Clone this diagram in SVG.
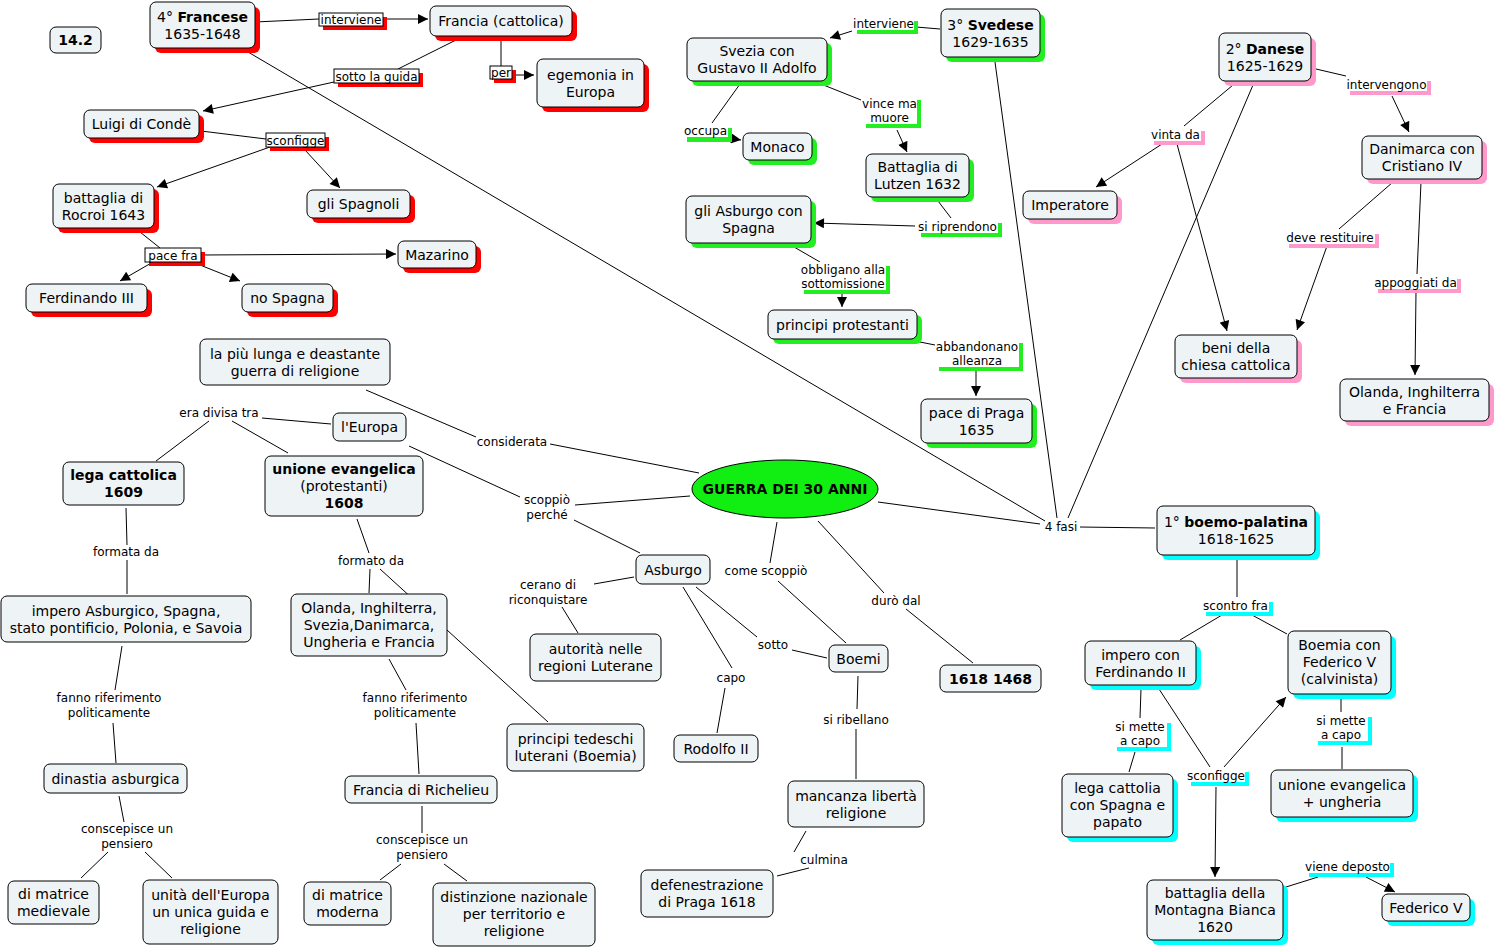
<svg xmlns="http://www.w3.org/2000/svg" width="1496" height="949" viewBox="0 0 1496 949">
<style>
.bg{fill:#ffffff}
.n{fill:#eef3f6;stroke:#000;stroke-width:1}
.sr{fill:#ff0000}
.sg{fill:#22ee22}
.sp{fill:#ff99cc}
.sc{fill:#00ffff}
.lb{fill:#ffffff}
.lbr{fill:#ffffff;stroke:#000;stroke-width:1}
text{font-family:"DejaVu Sans","Verdana",sans-serif;fill:#000}
.t{font-size:14px;text-anchor:middle}
.b{font-weight:bold}
.l{font-size:12px;text-anchor:middle}
.c line{stroke:#000;stroke-width:1;fill:none}
.c line.a{marker-end:url(#ar)}
</style>
<defs>
<marker id="ar" viewBox="0 0 10 10" refX="10" refY="5" markerWidth="11" markerHeight="10" markerUnits="userSpaceOnUse" orient="auto">
<path d="M0,0 L10,5 L0,10 z" fill="#000"/>
</marker>
</defs>
<rect class="bg" x="0" y="0" width="1496" height="949"/>

<g class="c" id="connectors">
<!-- red -->
<line x1="255" y1="22" x2="319" y2="19"/>
<line class="a" x1="383" y1="19" x2="428" y2="19"/>
<line x1="462" y1="37" x2="398" y2="69"/>
<line class="a" x1="334" y1="82" x2="203" y2="111"/>
<line x1="501" y1="37" x2="501" y2="66"/>
<line class="a" x1="512" y1="75" x2="534" y2="75"/>
<line x1="201" y1="131" x2="266" y2="139"/>
<line class="a" x1="270" y1="147" x2="157" y2="187"/>
<line class="a" x1="305" y1="150" x2="340" y2="188"/>
<line x1="140" y1="232" x2="160" y2="248"/>
<line class="a" x1="201" y1="255" x2="396" y2="254"/>
<line class="a" x1="153" y1="262" x2="120" y2="281"/>
<line class="a" x1="200" y1="265" x2="240" y2="281"/>
<line x1="248" y1="52" x2="1045" y2="521"/>
<!-- green -->
<line x1="940" y1="29" x2="916" y2="27"/>
<line class="a" x1="852" y1="31" x2="830" y2="38"/>
<line x1="740" y1="84" x2="712" y2="123"/>
<line class="a" x1="728" y1="138" x2="741" y2="140"/>
<line x1="821" y1="84" x2="861" y2="100"/>
<line class="a" x1="897" y1="130" x2="907" y2="152"/>
<line x1="938" y1="201" x2="951" y2="218"/>
<line class="a" x1="915" y1="226" x2="814" y2="223"/>
<line x1="794" y1="247" x2="820" y2="262"/>
<line class="a" x1="842" y1="291" x2="842" y2="307"/>
<line x1="920" y1="342" x2="935" y2="345"/>
<line class="a" x1="976" y1="369" x2="976" y2="396"/>
<line x1="995" y1="62" x2="1057" y2="518"/>
<!-- pink -->
<line x1="1316" y1="69" x2="1346" y2="76"/>
<line class="a" x1="1392" y1="96" x2="1409" y2="132"/>
<line x1="1233" y1="85" x2="1184" y2="126"/>
<line class="a" x1="1162" y1="144" x2="1096" y2="187"/>
<line class="a" x1="1177" y1="144" x2="1227" y2="331"/>
<line x1="1253" y1="85" x2="1068" y2="518"/>
<line x1="1393" y1="182" x2="1339" y2="229"/>
<line class="a" x1="1327" y1="246" x2="1297" y2="330"/>
<line x1="1421" y1="182" x2="1417" y2="274"/>
<line class="a" x1="1416" y1="291" x2="1415" y2="375"/>
<!-- cyan -->
<line x1="1080" y1="527" x2="1155" y2="528"/>
<line x1="1237" y1="558" x2="1237" y2="597"/>
<line x1="1222" y1="615" x2="1180" y2="640"/>
<line x1="1252" y1="615" x2="1287" y2="634"/>
<line x1="1141" y1="689" x2="1140" y2="718"/>
<line x1="1135" y1="752" x2="1129" y2="772"/>
<line x1="1159" y1="689" x2="1210" y2="767"/>
<line class="a" x1="1224" y1="767" x2="1286" y2="697"/>
<line class="a" x1="1216" y1="787" x2="1215" y2="877"/>
<line x1="1341" y1="698" x2="1341" y2="712"/>
<line x1="1342" y1="747" x2="1342" y2="769"/>
<line x1="1286" y1="887" x2="1318" y2="877"/>
<line class="a" x1="1366" y1="877" x2="1395" y2="892"/>
<!-- center -->
<line x1="366" y1="390" x2="476" y2="437"/>
<line x1="550" y1="444" x2="699" y2="473"/>
<line x1="331" y1="424" x2="262" y2="418"/>
<line x1="209" y1="421" x2="156" y2="461"/>
<line x1="232" y1="421" x2="288" y2="453"/>
<line x1="409" y1="446" x2="520" y2="497"/>
<line x1="575" y1="505" x2="690" y2="496"/>
<line x1="574" y1="520" x2="640" y2="553"/>
<line x1="126" y1="508" x2="127" y2="545"/>
<line x1="127" y1="560" x2="127" y2="594"/>
<line x1="357" y1="519" x2="369" y2="553"/>
<line x1="370" y1="569" x2="369" y2="593"/>
<line x1="380" y1="569" x2="548" y2="722"/>
<line x1="122" y1="646" x2="115" y2="690"/>
<line x1="113" y1="723" x2="116" y2="763"/>
<line x1="389" y1="659" x2="406" y2="690"/>
<line x1="416" y1="723" x2="419" y2="774"/>
<line x1="119" y1="796" x2="124" y2="822"/>
<line x1="108" y1="852" x2="81" y2="878"/>
<line x1="145" y1="852" x2="172" y2="878"/>
<line x1="422" y1="806" x2="422" y2="833"/>
<line x1="401" y1="864" x2="380" y2="880"/>
<line x1="444" y1="864" x2="467" y2="881"/>
<line x1="777" y1="522" x2="770" y2="563"/>
<line x1="778" y1="581" x2="846" y2="643"/>
<line x1="818" y1="521" x2="884" y2="593"/>
<line x1="906" y1="609" x2="973" y2="663"/>
<line x1="878" y1="502" x2="1040" y2="524"/>
<line x1="634" y1="577" x2="594" y2="584"/>
<line x1="562" y1="607" x2="578" y2="633"/>
<line x1="683" y1="587" x2="732" y2="668"/>
<line x1="725" y1="688" x2="717" y2="733"/>
<line x1="696" y1="587" x2="757" y2="637"/>
<line x1="792" y1="650" x2="827" y2="658"/>
<line x1="858" y1="676" x2="857" y2="709"/>
<line x1="856" y1="729" x2="856" y2="779"/>
<line x1="806" y1="831" x2="794" y2="852"/>
<line x1="809" y1="868" x2="777" y2="876"/>
</g>

<!-- link labels red -->
<g id="lbl-interviene-r"><rect class="sr" x="323" y="17" width="64" height="13"/><rect class="lbr" x="319" y="13" width="64" height="13"/><text class="l" x="351" y="24">interviene</text></g>
<g id="lbl-sotto-guida"><rect class="sr" x="338" y="73" width="85" height="14"/><rect class="lbr" x="334" y="69" width="85" height="14"/><text class="l" x="376.5" y="80.5">sotto la guida</text></g>
<g id="lbl-per"><rect class="sr" x="494" y="70" width="22" height="13"/><rect class="lbr" x="490" y="66" width="22" height="13"/><text class="l" x="501" y="77">per</text></g>
<g id="lbl-sconfigge-r"><rect class="sr" x="270" y="137" width="59" height="14"/><rect class="lbr" x="266" y="133" width="59" height="14"/><text class="l" x="295.5" y="144.5">sconfigge</text></g>
<g id="lbl-pace-fra"><rect class="sr" x="149" y="252" width="56" height="14"/><rect class="lbr" x="145" y="248" width="56" height="14"/><text class="l" x="173" y="259.5">pace fra</text></g>

<!-- link labels green -->
<g id="lbl-interviene-g"><rect class="sg" x="857" y="21" width="61" height="13"/><rect class="lb" x="853" y="17" width="61" height="13"/><text class="l" x="883.5" y="28">interviene</text></g>
<g id="lbl-occupa"><rect class="sg" x="687" y="128" width="45" height="14"/><rect class="lb" x="683" y="124" width="45" height="13"/><text class="l" x="705.5" y="134.5">occupa</text></g>
<g id="lbl-vince"><rect class="sg" x="866" y="100" width="55" height="28"/><rect class="lb" x="862" y="96" width="55" height="28"/><text class="l" x="889.5" y="107.5">vince ma</text><text class="l" x="889.5" y="122">muore</text></g>
<g id="lbl-riprendono"><rect class="sg" x="921" y="223" width="81" height="14"/><rect class="lb" x="917" y="219" width="81" height="14"/><text class="l" x="957.5" y="230.5">si riprendono</text></g>
<g id="lbl-obbligano"><rect class="sg" x="804" y="266" width="86" height="28"/><rect class="lb" x="800" y="262" width="86" height="28"/><text class="l" x="843" y="273.5">obbligano alla</text><text class="l" x="843" y="288">sottomissione</text></g>
<g id="lbl-abbandonano"><rect class="sg" x="939" y="343" width="84" height="28"/><rect class="lb" x="935" y="339" width="84" height="28"/><text class="l" x="977" y="350.5">abbandonano</text><text class="l" x="977" y="365">alleanza</text></g>

<!-- link labels pink -->
<g id="lbl-intervengono"><rect class="sp" x="1350" y="81" width="81" height="14"/><rect class="lb" x="1346" y="77" width="81" height="14"/><text class="l" x="1386.5" y="88.5">intervengono</text></g>
<g id="lbl-vinta"><rect class="sp" x="1154" y="131" width="51" height="14"/><rect class="lb" x="1150" y="127" width="51" height="14"/><text class="l" x="1175.5" y="138.5">vinta da</text></g>
<g id="lbl-restituire"><rect class="sp" x="1289" y="234" width="90" height="14"/><rect class="lb" x="1285" y="230" width="90" height="14"/><text class="l" x="1330" y="241.5">deve restituire</text></g>
<g id="lbl-appoggiati"><rect class="sp" x="1378" y="279" width="83" height="14"/><rect class="lb" x="1374" y="275" width="83" height="14"/><text class="l" x="1415.5" y="286.5">appoggiati da</text></g>

<!-- link labels cyan -->
<g id="lbl-scontro"><rect class="sc" x="1206" y="602" width="67" height="14"/><rect class="lb" x="1202" y="598" width="67" height="14"/><text class="l" x="1235.5" y="609.5">scontro fra</text></g>
<g id="lbl-mette-l"><rect class="sc" x="1117" y="723" width="54" height="28"/><rect class="lb" x="1113" y="719" width="54" height="28"/><text class="l" x="1140" y="730.5">si mette</text><text class="l" x="1140" y="745">a capo</text></g>
<g id="lbl-sconfigge-c"><rect class="sc" x="1191" y="772" width="58" height="14"/><rect class="lb" x="1187" y="768" width="58" height="14"/><text class="l" x="1216" y="779.5">sconfigge</text></g>
<g id="lbl-mette-r"><rect class="sc" x="1318" y="717" width="54" height="28"/><rect class="lb" x="1314" y="713" width="54" height="28"/><text class="l" x="1341" y="724.5">si mette</text><text class="l" x="1341" y="739">a capo</text></g>
<g id="lbl-deposto"><rect class="sc" x="1309" y="863" width="85" height="14"/><rect class="lb" x="1305" y="859" width="85" height="14"/><text class="l" x="1347.5" y="870.5">viene deposto</text></g>

<!-- link labels plain -->
<g id="lbl-plain">
<text class="l" x="512" y="446">considerata</text>
<text class="l" x="219" y="417">era divisa tra</text>
<text class="l" x="547" y="504">scoppiò</text><text class="l" x="547" y="518.5">perché</text>
<text class="l" x="126" y="556">formata da</text>
<text class="l" x="371" y="565">formato da</text>
<text class="l" x="109" y="702">fanno riferimento</text><text class="l" x="109" y="716.5">politicamente</text>
<text class="l" x="415" y="702">fanno riferimento</text><text class="l" x="415" y="716.5">politicamente</text>
<text class="l" x="127" y="833">conscepisce un</text><text class="l" x="127" y="847.5">pensiero</text>
<text class="l" x="422" y="844">conscepisce un</text><text class="l" x="422" y="858.5">pensiero</text>
<text class="l" x="548" y="589">cerano di</text><text class="l" x="548" y="603.5">riconquistare</text>
<text class="l" x="731" y="682">capo</text>
<text class="l" x="766" y="575">come scoppiò</text>
<text class="l" x="773" y="649">sotto</text>
<text class="l" x="896" y="605">durò dal</text>
<text class="l" x="856" y="724">si ribellano</text>
<text class="l" x="824" y="864">culmina</text>
<text class="l" x="1061" y="531">4 fasi</text>
</g>

<!-- red nodes -->
<g id="n-142"><rect class="n" x="50" y="27" width="51" height="26" rx="6"/><text class="t b" x="75.5" y="45">14.2</text></g>
<g id="n-francese"><rect class="sr" x="155" y="7" width="105" height="46" rx="6"/><rect class="n" x="150" y="2" width="105" height="46" rx="6"/><text class="t" x="202.5" y="21.5">4° <tspan class="b">Francese</tspan></text><text class="t" x="202.5" y="38.5">1635-1648</text></g>
<g id="n-francia"><rect class="sr" x="435" y="11" width="142" height="30" rx="6"/><rect class="n" x="430" y="6" width="142" height="30" rx="6"/><text class="t" x="501" y="26">Francia (cattolica)</text></g>
<g id="n-egemonia"><rect class="sr" x="542" y="64" width="107" height="48" rx="6"/><rect class="n" x="537" y="59" width="107" height="48" rx="6"/><text class="t" x="590.5" y="79.5">egemonia in</text><text class="t" x="590.5" y="96.5">Europa</text></g>
<g id="n-luigi"><rect class="sr" x="89" y="115" width="115" height="28" rx="6"/><rect class="n" x="84" y="110" width="115" height="28" rx="6"/><text class="t" x="141.5" y="129">Luigi di Condè</text></g>
<g id="n-rocroi"><rect class="sr" x="58" y="189" width="101" height="44" rx="6"/><rect class="n" x="53" y="184" width="101" height="44" rx="6"/><text class="t" x="103.5" y="202.5">battaglia di</text><text class="t" x="103.5" y="219.5">Rocroi 1643</text></g>
<g id="n-spagnoli"><rect class="sr" x="312" y="195" width="103" height="28" rx="6"/><rect class="n" x="307" y="190" width="103" height="28" rx="6"/><text class="t" x="358.5" y="209">gli Spagnoli</text></g>
<g id="n-mazarino"><rect class="sr" x="403" y="246" width="78" height="27" rx="6"/><rect class="n" x="398" y="241" width="78" height="27" rx="6"/><text class="t" x="437" y="259.5">Mazarino</text></g>
<g id="n-ferdinando3"><rect class="sr" x="31" y="289" width="121" height="28" rx="6"/><rect class="n" x="26" y="284" width="121" height="28" rx="6"/><text class="t" x="86.5" y="303">Ferdinando III</text></g>
<g id="n-nospagna"><rect class="sr" x="247" y="289" width="91" height="28" rx="6"/><rect class="n" x="242" y="284" width="91" height="28" rx="6"/><text class="t" x="287.5" y="303">no Spagna</text></g>

<!-- green nodes -->
<g id="n-svedese"><rect class="sg" x="946" y="14" width="99" height="48" rx="6"/><rect class="n" x="941" y="9" width="99" height="48" rx="6"/><text class="t" x="990.5" y="29.5">3° <tspan class="b">Svedese</tspan></text><text class="t" x="990.5" y="46.5">1629-1635</text></g>
<g id="n-svezia"><rect class="sg" x="692" y="43" width="140" height="43" rx="6"/><rect class="n" x="687" y="38" width="140" height="43" rx="6"/><text class="t" x="757" y="56">Svezia con</text><text class="t" x="757" y="73">Gustavo II Adolfo</text></g>
<g id="n-monaco"><rect class="sg" x="748" y="138" width="69" height="27" rx="6"/><rect class="n" x="743" y="133" width="69" height="27" rx="6"/><text class="t" x="777.5" y="151.5">Monaco</text></g>
<g id="n-lutzen"><rect class="sg" x="871" y="159" width="103" height="43" rx="6"/><rect class="n" x="866" y="154" width="103" height="43" rx="6"/><text class="t" x="917.5" y="172">Battaglia di</text><text class="t" x="917.5" y="189">Lutzen 1632</text></g>
<g id="n-asburgo-spagna"><rect class="sg" x="691" y="201" width="125" height="47" rx="6"/><rect class="n" x="686" y="196" width="125" height="47" rx="6"/><text class="t" x="748.5" y="216">gli Asburgo con</text><text class="t" x="748.5" y="233">Spagna</text></g>
<g id="n-principi"><rect class="sg" x="773" y="315" width="149" height="29" rx="6"/><rect class="n" x="768" y="310" width="149" height="29" rx="6"/><text class="t" x="842.5" y="329.5">principi protestanti</text></g>
<g id="n-praga1635"><rect class="sg" x="926" y="404" width="111" height="44" rx="6"/><rect class="n" x="921" y="399" width="111" height="44" rx="6"/><text class="t" x="976.5" y="417.5">pace di Praga</text><text class="t" x="976.5" y="434.5">1635</text></g>

<!-- pink nodes -->
<g id="n-danese"><rect class="sp" x="1224" y="38" width="92" height="48" rx="6"/><rect class="n" x="1219" y="33" width="92" height="48" rx="6"/><text class="t" x="1265" y="53.5">2° <tspan class="b">Danese</tspan></text><text class="t" x="1265" y="70.5">1625-1629</text></g>
<g id="n-imperatore"><rect class="sp" x="1028" y="196" width="94" height="28" rx="6"/><rect class="n" x="1023" y="191" width="94" height="28" rx="6"/><text class="t" x="1070" y="210">Imperatore</text></g>
<g id="n-danimarca"><rect class="sp" x="1367" y="141" width="120" height="43" rx="6"/><rect class="n" x="1362" y="136" width="120" height="43" rx="6"/><text class="t" x="1422" y="154">Danimarca con</text><text class="t" x="1422" y="171">Cristiano IV</text></g>
<g id="n-beni"><rect class="sp" x="1180" y="340" width="122" height="43" rx="6"/><rect class="n" x="1175" y="335" width="122" height="43" rx="6"/><text class="t" x="1236" y="353">beni della</text><text class="t" x="1236" y="370">chiesa cattolica</text></g>
<g id="n-olanda-p"><rect class="sp" x="1345" y="384" width="149" height="42" rx="6"/><rect class="n" x="1340" y="379" width="149" height="42" rx="6"/><text class="t" x="1414.5" y="396.5">Olanda, Inghilterra</text><text class="t" x="1414.5" y="413.5">e Francia</text></g>

<!-- cyan nodes -->
<g id="n-boemo"><rect class="sc" x="1162" y="511" width="158" height="49" rx="6"/><rect class="n" x="1157" y="506" width="158" height="49" rx="6"/><text class="t" x="1236" y="527">1° <tspan class="b">boemo-palatina</tspan></text><text class="t" x="1236" y="544">1618-1625</text></g>
<g id="n-impero-f"><rect class="sc" x="1090" y="646" width="111" height="44" rx="6"/><rect class="n" x="1085" y="641" width="111" height="44" rx="6"/><text class="t" x="1140.5" y="659.5">impero con</text><text class="t" x="1140.5" y="676.5">Ferdinando II</text></g>
<g id="n-boemia-f"><rect class="sc" x="1293" y="636" width="103" height="63" rx="6"/><rect class="n" x="1288" y="631" width="103" height="63" rx="6"/><text class="t" x="1339.5" y="650">Boemia con</text><text class="t" x="1339.5" y="667">Federico V</text><text class="t" x="1339.5" y="684">(calvinista)</text></g>
<g id="n-lega-c"><rect class="sc" x="1067" y="779" width="111" height="63" rx="6"/><rect class="n" x="1062" y="774" width="111" height="63" rx="6"/><text class="t" x="1117.5" y="793">lega cattolia</text><text class="t" x="1117.5" y="810">con Spagna e</text><text class="t" x="1117.5" y="827">papato</text></g>
<g id="n-unione-u"><rect class="sc" x="1276" y="775" width="142" height="47" rx="6"/><rect class="n" x="1271" y="770" width="142" height="47" rx="6"/><text class="t" x="1342" y="790">unione evangelica</text><text class="t" x="1342" y="807">+ ungheria</text></g>
<g id="n-montagna"><rect class="sc" x="1152" y="885" width="136" height="60" rx="6"/><rect class="n" x="1147" y="880" width="136" height="60" rx="6"/><text class="t" x="1215" y="898">battaglia della</text><text class="t" x="1215" y="915">Montagna Bianca</text><text class="t" x="1215" y="932">1620</text></g>
<g id="n-federico"><rect class="sc" x="1387" y="899" width="88" height="27" rx="6"/><rect class="n" x="1382" y="894" width="88" height="27" rx="6"/><text class="t" x="1426" y="912.5">Federico V</text></g>

<!-- center nodes -->
<g id="n-guerra"><ellipse cx="785" cy="489" rx="93" ry="29" fill="#11ee11" stroke="#000" stroke-width="1"/><text class="t b" x="785" y="494">GUERRA DEI 30 ANNI</text></g>
<g id="n-lunga"><rect class="n" x="200" y="339" width="190" height="46" rx="6"/><text class="t" x="295" y="358.5">la più lunga e deastante</text><text class="t" x="295" y="375.5">guerra di religione</text></g>
<g id="n-europa"><rect class="n" x="333" y="413" width="73" height="28" rx="6"/><text class="t" x="369.5" y="432">l'Europa</text></g>
<g id="n-lega-cattolica"><rect class="n" x="63" y="462" width="121" height="43" rx="6"/><text class="t b" x="123.5" y="480">lega cattolica</text><text class="t b" x="123.5" y="497">1609</text></g>
<g id="n-unione-ev"><rect class="n" x="265" y="456" width="158" height="60" rx="6"/><text class="t b" x="344" y="474">unione evangelica</text><text class="t" x="344" y="491">(protestanti)</text><text class="t b" x="344" y="508">1608</text></g>
<g id="n-impero-asb"><rect class="n" x="1" y="596" width="250" height="46" rx="6"/><text class="t" x="126" y="615.5">impero Asburgico, Spagna,</text><text class="t" x="126" y="632.5">stato pontificio, Polonia, e Savoia</text></g>
<g id="n-olanda-c"><rect class="n" x="291" y="594" width="156" height="62" rx="6"/><text class="t" x="369" y="613">Olanda, Inghilterra,</text><text class="t" x="369" y="630">Svezia,Danimarca,</text><text class="t" x="369" y="647">Ungheria e Francia</text></g>
<g id="n-dinastia"><rect class="n" x="44" y="764" width="143" height="29" rx="6"/><text class="t" x="115.5" y="783.5">dinastia asburgica</text></g>
<g id="n-richelieu"><rect class="n" x="345" y="776" width="152" height="27" rx="6"/><text class="t" x="421" y="794.5">Francia di Richelieu</text></g>
<g id="n-medievale"><rect class="n" x="8" y="881" width="91" height="43" rx="6"/><text class="t" x="53.5" y="899">di matrice</text><text class="t" x="53.5" y="916">medievale</text></g>
<g id="n-unita"><rect class="n" x="143" y="880" width="135" height="64" rx="6"/><text class="t" x="210.5" y="900">unità dell'Europa</text><text class="t" x="210.5" y="917">un unica guida e</text><text class="t" x="210.5" y="934">religione</text></g>
<g id="n-moderna"><rect class="n" x="304" y="882" width="87" height="43" rx="6"/><text class="t" x="347.5" y="900">di matrice</text><text class="t" x="347.5" y="917">moderna</text></g>
<g id="n-distinzione"><rect class="n" x="433" y="883" width="162" height="63" rx="6"/><text class="t" x="514" y="902">distinzione nazionale</text><text class="t" x="514" y="919">per territorio e</text><text class="t" x="514" y="936">religione</text></g>
<g id="n-tedeschi"><rect class="n" x="507" y="724" width="137" height="47" rx="6"/><text class="t" x="575.5" y="744">principi tedeschi</text><text class="t" x="575.5" y="761">luterani (Boemia)</text></g>
<g id="n-asburgo"><rect class="n" x="636" y="555" width="74" height="29" rx="6"/><text class="t" x="673" y="574.5">Asburgo</text></g>
<g id="n-autorita"><rect class="n" x="530" y="634" width="131" height="47" rx="6"/><text class="t" x="595.5" y="654">autorità nelle</text><text class="t" x="595.5" y="671">regioni Luterane</text></g>
<g id="n-rodolfo"><rect class="n" x="674" y="735" width="84" height="27" rx="6"/><text class="t" x="716" y="753.5">Rodolfo II</text></g>
<g id="n-boemi"><rect class="n" x="829" y="645" width="59" height="27" rx="6"/><text class="t" x="858.5" y="663.5">Boemi</text></g>
<g id="n-1618"><rect class="n" x="940" y="665" width="101" height="27" rx="6"/><text class="t b" x="990.5" y="683.5">1618 1468</text></g>
<g id="n-mancanza"><rect class="n" x="788" y="781" width="136" height="46" rx="6"/><text class="t" x="856" y="800.5">mancanza libertà</text><text class="t" x="856" y="817.5">religione</text></g>
<g id="n-defenestrazione"><rect class="n" x="641" y="870" width="132" height="47" rx="6"/><text class="t" x="707" y="890">defenestrazione</text><text class="t" x="707" y="907">di Praga 1618</text></g>
</svg>
